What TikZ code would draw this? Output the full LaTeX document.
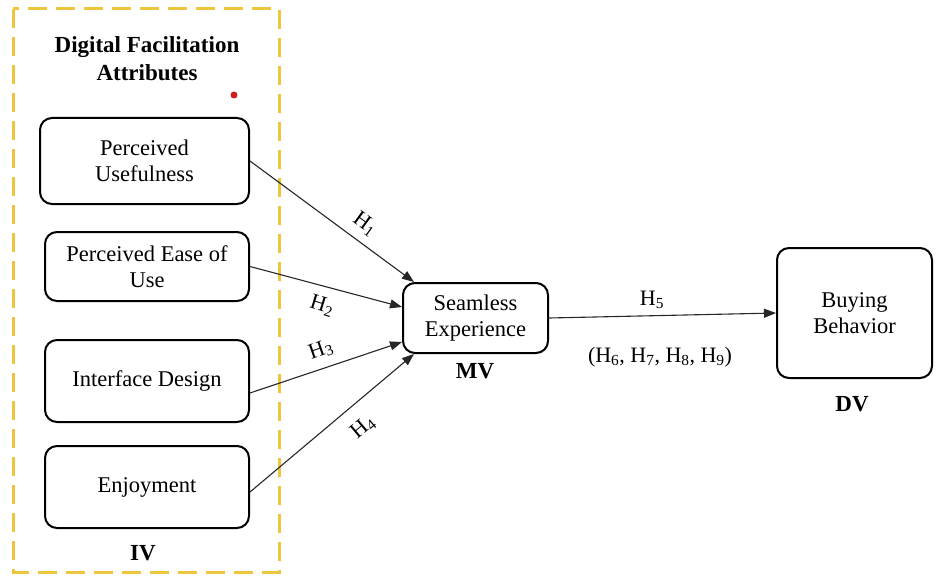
\documentclass[tikz,border=0pt]{standalone}
\usepackage{fontspec}
\setmainfont{Liberation Serif}
\usetikzlibrary{calc,arrows.meta}
\definecolor{ylw}{RGB}{238,198,62}
\definecolor{reddot}{RGB}{205,30,30}
\tikzset{
  varbox/.style={draw=black, line width=2pt, rounded corners=12pt, align=center,
    font=\fontsize{22.5}{26}\selectfont, inner sep=0pt},
  hyparrow/.style={draw=black!85, line width=1.1pt, -{Triangle[length=12pt,width=9pt]}},
  hlabel/.style={font=\fontsize{22}{24}\selectfont, inner sep=0pt},
  boldlabel/.style={font=\fontsize{23}{28}\selectfont\bfseries, align=center, inner sep=0pt},
}
\begin{document}
\begin{tikzpicture}[x=1pt,y=-1pt]
\useasboundingbox (0,0) rectangle (936,575);
% dashed group frame
\draw[ylw, line width=3pt, dash pattern=on 19pt off 9pt] (13,9) rectangle (279,572);
\node[boldlabel] (title) at (147,59) {Digital Facilitation\\Attributes};
\fill[reddot] (234,95) circle (3.5pt);
% independent variables
\node[varbox, minimum width=209pt, minimum height=86pt] (b1) at (144.5,161) {Perceived\\Usefulness};
\node[varbox, minimum width=204pt, minimum height=69pt] (b2) at (147,266.5) {Perceived Ease of\\Use};
\node[varbox, minimum width=204pt, minimum height=82pt] (b3) at (147,381) {Interface Design};
\node[varbox, minimum width=204pt, minimum height=82pt] (b4) at (147,487) {Enjoyment};
\node[boldlabel] (iv) at (143,553) {IV};
% mediator
\node[varbox, minimum width=145pt, minimum height=70pt] (se) at (475.5,318) {Seamless\\Experience};
\node[boldlabel] (mv) at (475,371) {MV};
% dependent
\node[varbox, minimum width=155pt, minimum height=130pt] (bb) at (854.5,313) {Buying\\Behavior};
\node[boldlabel] (dv) at (852,404) {DV};
% arrows
\draw[hyparrow] (b1.east) -- ($(se.north west)+(12,0)$);
\draw[hyparrow] (b2.east) -- ($(se.west)+(0,-11)$);
\draw[hyparrow] ($(b3.east)+(0,12)$) -- ($(se.west)+(0,24)$);
\draw[hyparrow] ($(b4.east)+(0,5)$) -- ($(se.south west)+(12,0)$);
\draw[hyparrow] (se.east) -- (bb.west);
% hypothesis labels
\node[hlabel, rotate=-36] (h1) at (365,224) {H\textsubscript{1}};
\node[hlabel, rotate=-17] (h2) at (322,306) {H\textsubscript{2}};
\node[hlabel, rotate=19] (h3) at (321,350) {H\textsubscript{3}};
\node[hlabel, rotate=40] (h4) at (363,427) {H\textsubscript{4}};
\node[hlabel] (h5) at (652,300) {H\textsubscript{5}};
\node[hlabel] (h69) at (660,357) {(H\textsubscript{6}, H\textsubscript{7}, H\textsubscript{8}, H\textsubscript{9})};
\end{tikzpicture}
\end{document}
